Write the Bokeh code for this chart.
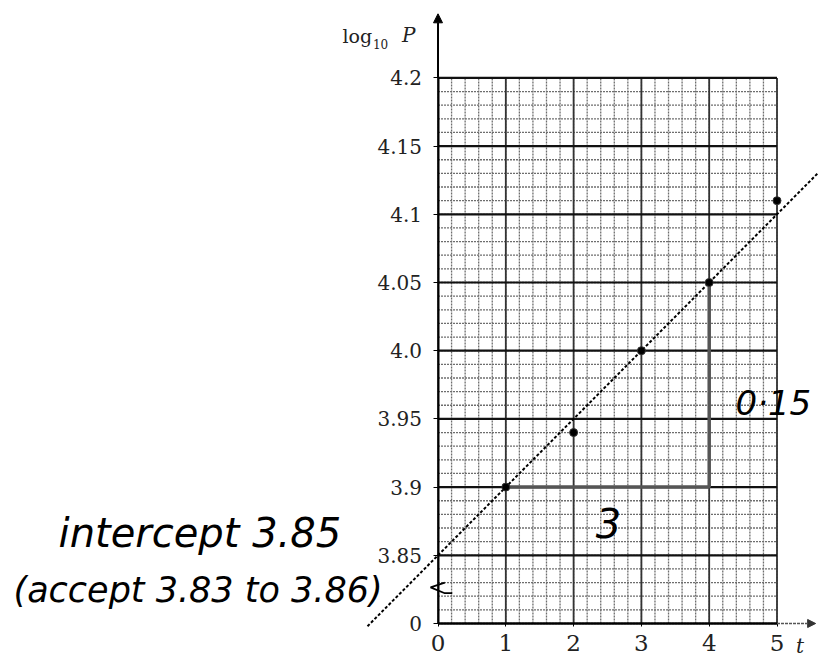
import numpy as np
from bokeh.plotting import figure
from bokeh.models import (Range1d, LinearAxis, FixedTicker, Arrow, NormalHead,
                          ColumnDataSource)
from bokeh.core.properties import value
from bokeh.embed import file_html
from bokeh.resources import INLINE

# measured values: time t and log10 of P
t_vals = [1, 2, 3, 4, 5]
logp_vals = [3.90, 3.94, 4.00, 4.05, 4.11]

# best-fit line: intercept and gradient (0.15 / 3)
intercept = 3.85
rise = 0.15
run = 3
gradient = rise / run
fit_t = [-1.04, 5.7]

# axis ticks and labels (y axis is broken: 3.80 position carries the label "0")
x_ticks = [0, 1, 2, 3, 4, 5]
x_tick_labels = ["0", "1", "2", "3", "4", "5"]
y_ticks = [3.80, 3.85, 3.90, 3.95, 4.00, 4.05, 4.10, 4.15, 4.20]
y_tick_labels = ["0", "3.85", "3.9", "3.95", "4.0", "4.05", "4.1", "4.15", "4.2"]

X_MIN, X_MAX = 0, 5
Y_MIN, Y_MAX = 3.80, 4.20

p = figure(width=818, height=657, output_backend="svg", toolbar_location=None,
           x_range=Range1d(-6.453, 5.612), y_range=Range1d(3.77507, 4.25675),
           x_axis_location=None, y_axis_location=None, min_border=0,
           outline_line_color=None, background_fill_color="white",
           border_fill_color="white")
p.xgrid.visible = False
p.ygrid.visible = False

# graph paper: fine lines every 0.01 / 0.2, bold lines every 0.05 / 1
gy_minor = np.round(np.arange(Y_MIN, Y_MAX + 1e-9, 0.01), 2)
gy_major = np.round(np.arange(Y_MIN, Y_MAX + 1e-9, 0.05), 2)
gx_minor = np.round(np.arange(X_MIN, X_MAX + 1e-9, 0.2), 1)
gx_major = np.arange(X_MIN, X_MAX + 1, 1)

p.segment(x0=[X_MIN] * len(gy_minor), y0=gy_minor, x1=[X_MAX] * len(gy_minor),
          y1=gy_minor, line_color="#6e6e6e", line_width=1.3, line_dash="2 1")
p.segment(x0=gx_minor, y0=[Y_MIN] * len(gx_minor), x1=gx_minor,
          y1=[Y_MAX] * len(gx_minor), line_color="#6e6e6e", line_width=1.3,
          line_dash="2 1")
p.segment(x0=gx_major, y0=[Y_MIN] * len(gx_major), x1=gx_major,
          y1=[Y_MAX] * len(gx_major), line_color="#333333", line_width=1.8)
p.segment(x0=[X_MIN] * len(gy_major), y0=gy_major, x1=[X_MAX] * len(gy_major),
          y1=gy_major, line_color="#111111", line_width=2.2)

# axes drawn through the origin of the broken scale
xaxis = LinearAxis(fixed_location=Y_MIN, ticker=FixedTicker(ticks=x_ticks),
                   bounds=(X_MIN, X_MAX))
xaxis.major_label_overrides = {t: lab for t, lab in zip(x_ticks, x_tick_labels)}
yaxis = LinearAxis(fixed_location=X_MIN, ticker=FixedTicker(ticks=y_ticks),
                   bounds=(Y_MIN, Y_MAX))
yaxis.major_label_overrides = {t: lab for t, lab in zip(y_ticks, y_tick_labels)}
for ax in (xaxis, yaxis):
    ax.axis_line_width = 2
    ax.axis_line_color = "black"
    ax.major_tick_in = 0
    ax.minor_tick_in = 0
    ax.minor_tick_out = 0
    ax.major_label_text_font = "DejaVu Serif"
    ax.major_label_text_color = "#222222"
xaxis.major_tick_out = 3
xaxis.major_label_standoff = 9
xaxis.major_label_text_font_size = "23px"
yaxis.major_tick_out = 5
yaxis.major_label_standoff = 11
yaxis.major_label_text_font_size = "20px"
p.add_layout(xaxis, "below")
p.add_layout(yaxis, "left")

# axis arrows
p.add_layout(Arrow(end=NormalHead(size=9, fill_color="black", line_color="black"),
                   x_start=0, y_start=Y_MAX, x_end=0, y_end=4.247,
                   line_width=2, line_color="black"))
p.add_layout(Arrow(end=NormalHead(size=8, fill_color="#333333", line_color="#333333"),
                   x_start=X_MAX, y_start=Y_MIN, x_end=5.57, y_end=Y_MIN,
                   line_width=1.5, line_color="#555555", line_dash="3 1"))

# break mark on the vertical axis
p.line(x=[0.1, -0.11, 0.1, 0.21], y=[3.8300, 3.8265, 3.8222, 3.8222],
       line_color="black", line_width=1.8)

# gradient triangle
p.line(x=[t_vals[0], t_vals[3], t_vals[3]],
       y=[logp_vals[0], logp_vals[0], logp_vals[0] + rise],
       line_color="#555555", line_width=3.5)

# line of best fit
fit_src = ColumnDataSource(dict(t=fit_t, y=[intercept + gradient * t for t in fit_t]))
p.line(x="t", y="y", source=fit_src, line_color="black", line_width=2,
       line_dash="3 2")

# data points
p.scatter(x=t_vals, y=logp_vals, size=8, marker="circle", fill_color="black",
          line_color="#333333")

# axis titles
p.text(x=[-1.409], y=[4.2304], text=["log"], text_font=value("DejaVu Serif"),
       text_font_size="19px", text_baseline="alphabetic", text_color="#222222")
p.text(x=[-0.96], y=[4.2245], text=["10"], text_font=value("DejaVu Serif"),
       text_font_size="12px", text_baseline="alphabetic", text_color="#222222")
p.text(x=[-0.53], y=[4.2311], text=["P"], text_font=value("DejaVu Serif"),
       text_font_style="italic", text_font_size="20px",
       text_baseline="alphabetic", text_color="#222222")
p.text(x=[5.40], y=[3.7835], text=["t"], text_font=value("DejaVu Serif"),
       text_font_style="italic", text_font_size="20px", text_align="right",
       text_baseline="alphabetic", text_color="#222222")

# handwritten working
hand = value("DejaVu Sans")
p.text(x=[2.515], y=[3.874], text=[f"{run}"], text_font=hand,
       text_font_style="italic", text_font_size="40px", text_align="center",
       text_baseline="alphabetic", text_color="black")
p.text(x=[4.388], y=[3.9613], text=["0·15"], text_font=hand,
       text_font_style="italic", text_font_size="34px",
       text_baseline="alphabetic", text_color="black")
p.text(x=[-5.597], y=[3.866], text=[f"intercept {intercept:.2f}"], text_font=hand,
       text_font_style="italic", text_font_size="40px",
       text_baseline="alphabetic", text_color="black")
p.text(x=[-6.261], y=[3.8242], text=["(accept 3.83 to 3.86)"], text_font=hand,
       text_font_style="italic", text_font_size="35px",
       text_baseline="alphabetic", text_color="black")

open("out.html", "w").write(file_html(p, INLINE))
